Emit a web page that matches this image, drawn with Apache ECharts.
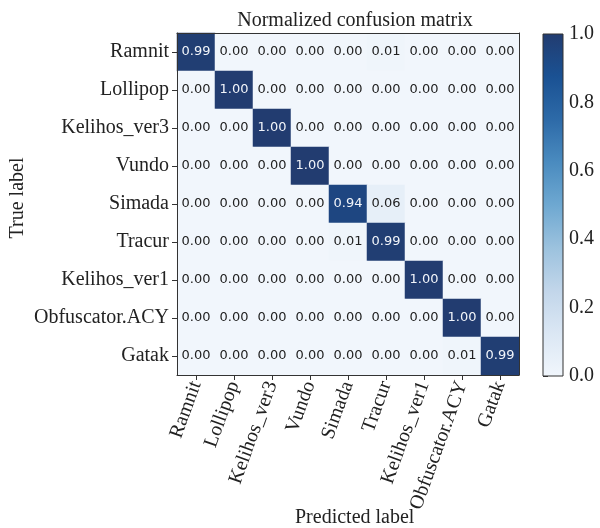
<!DOCTYPE html>
<html>
<head>
<meta charset="utf-8">
<script src="https://cdn.jsdelivr.net/npm/echarts@6/dist/echarts.min.js"></script>
<style>
  html, body { margin: 0; padding: 0; background: #fff; }
  #chart { width: 600px; height: 528px; }
</style>
</head>
<body>
<div id="chart"></div>
<script>
// Malware family names (true = rows, predicted = columns)
const classes = ['Ramnit', 'Lollipop', 'Kelihos_ver3', 'Vundo', 'Simada',
                 'Tracur', 'Kelihos_ver1', 'Obfuscator.ACY', 'Gatak'];

// Row-normalized confusion matrix, one row per true class
const rowRamnit      = [0.99, 0.00, 0.00, 0.00, 0.00, 0.01, 0.00, 0.00, 0.00];
const rowLollipop    = [0.00, 1.00, 0.00, 0.00, 0.00, 0.00, 0.00, 0.00, 0.00];
const rowKelihos3    = [0.00, 0.00, 1.00, 0.00, 0.00, 0.00, 0.00, 0.00, 0.00];
const rowVundo       = [0.00, 0.00, 0.00, 1.00, 0.00, 0.00, 0.00, 0.00, 0.00];
const rowSimada      = [0.00, 0.00, 0.00, 0.00, 0.94, 0.06, 0.00, 0.00, 0.00];
const rowTracur      = [0.00, 0.00, 0.00, 0.00, 0.01, 0.99, 0.00, 0.00, 0.00];
const rowKelihos1    = [0.00, 0.00, 0.00, 0.00, 0.00, 0.00, 1.00, 0.00, 0.00];
const rowObfuscator  = [0.00, 0.00, 0.00, 0.00, 0.00, 0.00, 0.00, 1.00, 0.00];
const rowGatak       = [0.00, 0.00, 0.00, 0.00, 0.00, 0.00, 0.00, 0.01, 0.99];
const matrixRows = [rowRamnit, rowLollipop, rowKelihos3, rowVundo, rowSimada,
                    rowTracur, rowKelihos1, rowObfuscator, rowGatak];

// Colorbar tick values
const colorbarTicks = [0.0, 0.2, 0.4, 0.6, 0.8, 1.0];

// Blues-style ramp, light to dark
const blues = ['#f1f6fc', '#dbe7f4', '#c2d6ea', '#9cc2de', '#6ea8d1',
               '#4a8bbf', '#2d6aa8', '#1a5193', '#223c70'];

const serif = 'Liberation Serif';
const textDark = '#222';
const frame = '#333';
const fs = 20;

const heatData = [];
matrixRows.forEach((row, r) => {
  row.forEach((v, c) => {
    heatData.push({
      value: [c, r, v],
      label: { color: v > 0.5 ? '#f2f5fa' : textDark }
    });
  });
});

const chart = echarts.init(document.getElementById('chart'), null, { renderer: 'canvas' });

const hiddenCat = {
  type: 'category', data: classes, gridIndex: 0,
  axisLabel: { show: false }, axisTick: { show: false },
  axisLine: { show: true, lineStyle: { color: frame, width: 1 } },
  splitLine: { show: false }, z: 10
};

chart.setOption({
  animation: false,
  backgroundColor: '#fff',
  title: {
    text: 'Normalized confusion matrix',
    left: 350, top: 6, textAlign: 'center',
    textStyle: { fontFamily: serif, fontSize: fs, fontWeight: 'normal', color: textDark }
  },
  grid: [
    { left: 177, top: 33, width: 342, height: 342 },
    { left: 543, top: 34, width: 20, height: 342 }
  ],
  xAxis: [
    {
      type: 'category', data: classes, gridIndex: 0, position: 'bottom', z: 10,
      axisLine: { show: true, lineStyle: { color: frame, width: 1 } },
      axisTick: { show: true, alignWithLabel: true, length: 5, lineStyle: { color: frame } },
      axisLabel: {
        rotate: 70, margin: 7, interval: 0,
        fontFamily: serif, fontSize: fs, color: textDark
      },
      splitLine: { show: false }
    },
    Object.assign({}, hiddenCat, { position: 'top' }),
    {
      type: 'value', gridIndex: 1, min: 0, max: 1, show: false
    }
  ],
  yAxis: [
    {
      type: 'category', data: classes, gridIndex: 0, inverse: true, position: 'left', z: 10,
      axisLine: { show: true, lineStyle: { color: frame, width: 1 } },
      axisTick: { show: true, alignWithLabel: true, length: 5, lineStyle: { color: frame } },
      axisLabel: { margin: 8, interval: 0, fontFamily: serif, fontSize: fs, color: textDark },
      splitLine: { show: false }
    },
    Object.assign({}, hiddenCat, { position: 'right', inverse: true }),
    {
      type: 'value', gridIndex: 1, min: 0, max: 1, interval: 0.2, position: 'right',
      axisLine: { show: false },
      axisTick: { show: true, length: 5, lineStyle: { color: frame } },
      axisLabel: {
        margin: 6, fontFamily: serif, fontSize: fs, color: textDark,
        formatter: v => colorbarTicks.some(t => Math.abs(t - v) < 1e-9) ? v.toFixed(1) : ''
      },
      splitLine: { show: false }
    }
  ],
  visualMap: {
    show: false, type: 'continuous', seriesIndex: 0, dimension: 2,
    min: 0, max: 1, inRange: { color: blues }
  },
  graphic: [
    {
      type: 'text', left: 295, top: 508,
      style: { text: 'Predicted label', font: fs + 'px "Liberation Serif"', fill: textDark }
    },
    {
      type: 'text', x: 18, y: 198, rotation: Math.PI / 2,
      style: {
        text: 'True label', font: fs + 'px "Liberation Serif"', fill: textDark,
        align: 'center', verticalAlign: 'middle'
      }
    }
  ],
  series: [
    {
      type: 'heatmap', xAxisIndex: 0, yAxisIndex: 0,
      data: heatData,
      label: {
        show: true, fontFamily: '"DejaVu Sans", sans-serif', fontSize: 13,
        formatter: p => p.value[2].toFixed(2)
      },
      itemStyle: { borderWidth: 0 },
      emphasis: { disabled: true }
    },
    {
      // Colorbar: one rect spanning 0..1 of its value axis, gradient fill
      type: 'custom', xAxisIndex: 2, yAxisIndex: 2,
      data: [[0, 0, 1, 1]],
      renderItem: (params, api) => {
        const p0 = api.coord([api.value(0), api.value(1)]);
        const p1 = api.coord([api.value(2), api.value(3)]);
        const stops = blues.map((c, i) => ({ offset: 1 - i / (blues.length - 1), color: c }));
        return {
          type: 'rect',
          shape: { x: p0[0], y: p1[1], width: p1[0] - p0[0], height: p0[1] - p1[1] },
          style: {
            fill: new echarts.graphic.LinearGradient(0, 0, 0, 1, stops),
            stroke: frame, lineWidth: 1
          }
        };
      },
      silent: true
    }
  ]
});
</script>
</body>
</html>
